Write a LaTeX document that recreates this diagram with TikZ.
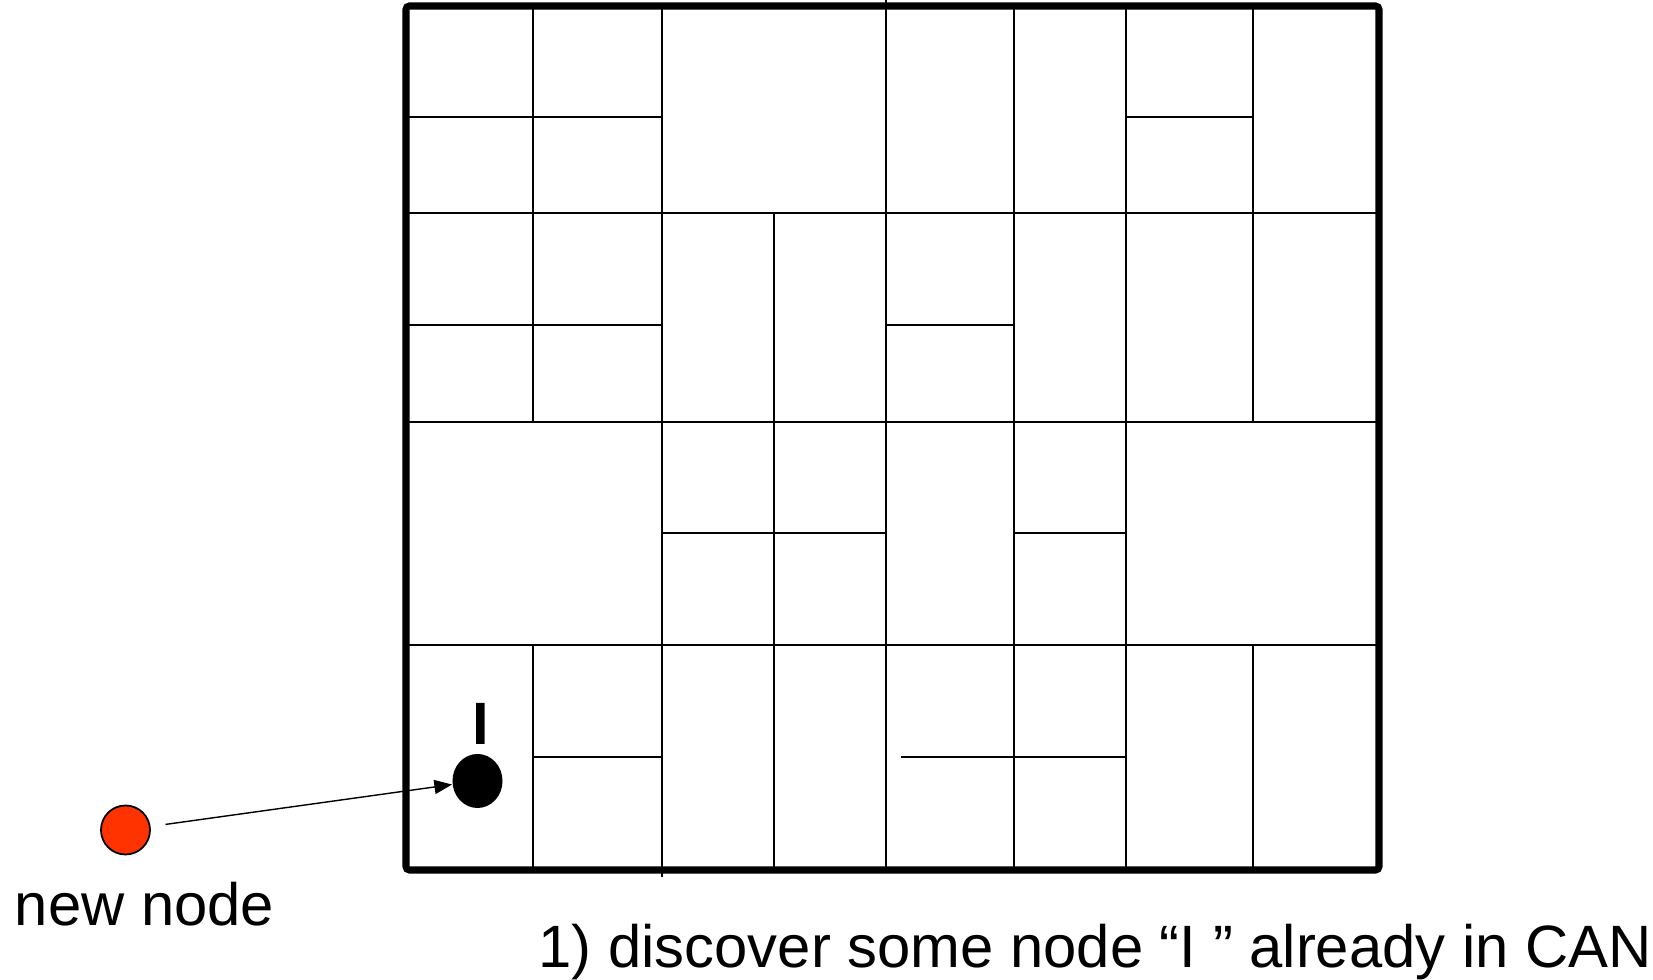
\documentclass[tikz,border=0pt]{standalone}
\usepackage{fontspec}
\setmainfont{Liberation Sans}
\usetikzlibrary{shapes,arrows.meta,positioning}
\definecolor{newred}{HTML}{FF3300}
\tikzset{
  zone/.style={line width=0.45pt},
  bd/.style={line width=2pt,rounded corners=1pt},
  canpt/.style={ellipse,fill=black,minimum width=0.5cm,minimum height=0.54cm,inner sep=0},
  newpt/.style={circle,draw,fill=newred,line width=0.5pt,minimum size=0.49cm,inner sep=0},
  txt/.style={font=\fontsize{17}{20}\selectfont,inner sep=0},
  arr/.style={-{Triangle[length=5pt,width=4pt]},line width=0.4pt},
}
\begin{document}
\begin{tikzpicture}[x=0.01cm,y=-0.01cm]
  \useasboundingbox (0,0) rectangle (1653,980);
  % zones of the CAN space
  \foreach \y in {213,422,645} \draw[zone] (406,\y) -- (1379,\y);
  \draw[zone] (406,117) -- (662,117); \draw[zone] (1126,117) -- (1253,117);
  \draw[zone] (406,325) -- (662,325); \draw[zone] (886,325) -- (1014,325);
  \draw[zone] (662,533) -- (886,533); \draw[zone] (1014,533) -- (1126,533);
  \draw[zone] (533,757) -- (662,757); \draw[zone] (901,757) -- (1126,757);
  \draw[zone] (662,6) -- (662,877); \draw[zone] (886,0) -- (886,870);
  \foreach \x in {1014,1126} \draw[zone] (\x,6) -- (\x,870);
  \foreach \x in {533,1253} {\draw[zone] (\x,6) -- (\x,422); \draw[zone] (\x,645) -- (\x,870);}
  \draw[zone] (774,213) -- (774,870);
  \draw[bd] (406,6) rectangle (1379,870);
  % nodes
  \node[canpt] (I) at (477.5,781) {};
  \node[txt,font=\fontsize{17}{20}\selectfont\bfseries,above=0.08cm of I,xshift=0.03cm] (Ilbl) {I};
  \node[newpt] (new) at (125.5,830) {};
  \node[txt,below=0.26cm of new,xshift=0.19cm] (newlbl) {new node};
  \draw[arr,shorten <=0.15cm] (new) -- (I);
  \node[txt,anchor=base west] (step1) at (538,968) {1) discover some node “I ” already in CAN};
\end{tikzpicture}
\end{document}
